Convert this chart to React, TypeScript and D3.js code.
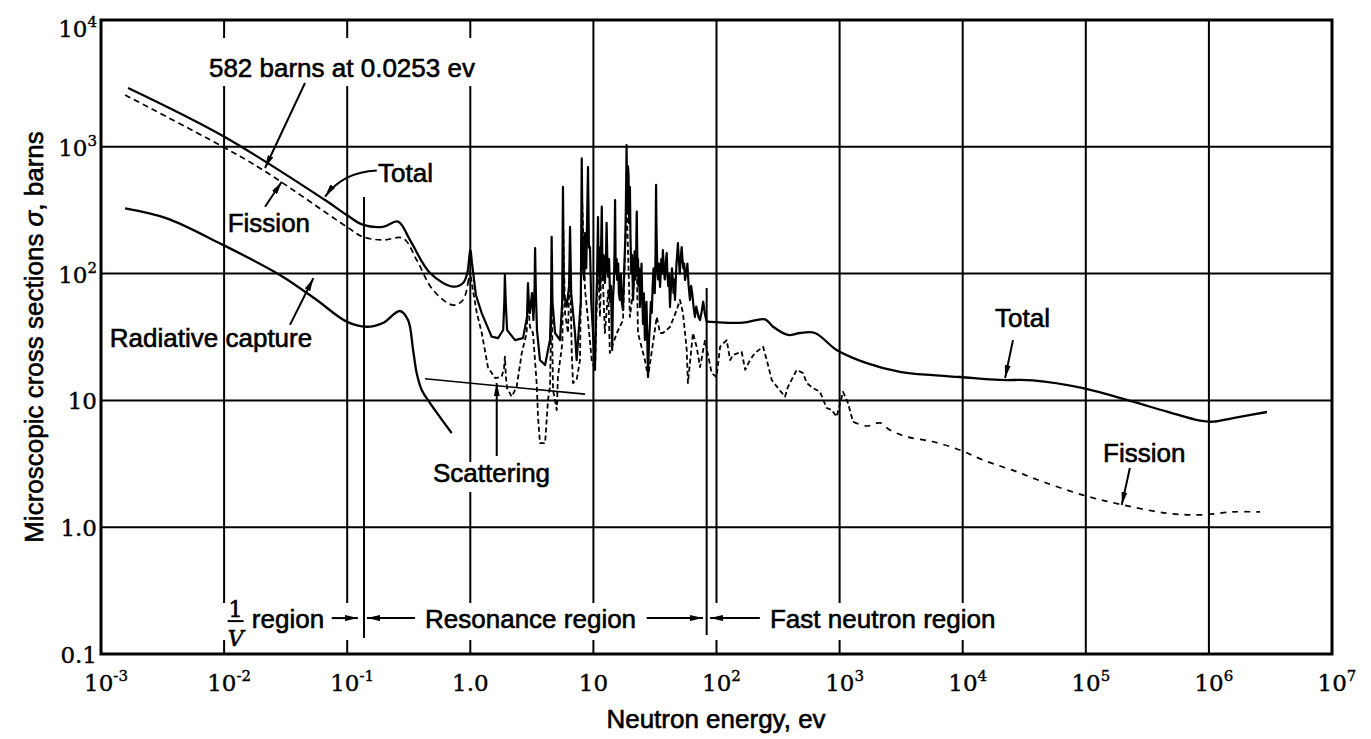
import React from 'react';
import * as d3 from 'd3';

// ---------- Data (energy in eV, cross section in barns) ----------
const totalThermal: [number, number][] = [
  [0.00166, 2910], [0.0098, 1216], [0.0661, 380], [0.0991, 290], [0.135, 242], [0.195, 234],
  [0.259, 257], [0.324, 184], [0.471, 101], [0.723, 78.9], [0.873, 84.3], [0.957, 107],
];

const totalResonance: [number, number][] = [
  [0.957, 107], [0.985, 140], [0.996, 153], [1.01, 150], [1.03, 123], [1.11, 67.8], [1.24, 48.6],
  [1.49, 31.8], [1.68, 31.0], [1.85, 35.9], [1.89, 60], [1.91, 97.5], [1.94, 60], [1.99, 35.9],
  [2.31, 29.9], [2.68, 31.0], [2.89, 45.5], [2.94, 84.3], [3.0, 55], [3.05, 48.9], [3.17, 70.3],
  [3.26, 43], [3.33, 80], [3.36, 159], [3.41, 70], [3.48, 35.9], [3.68, 20.8], [4.05, 19.0],
  [4.44, 29.9], [4.53, 60], [4.58, 195], [4.65, 60], [4.88, 34.0], [5.36, 29.9], [5.58, 60],
  [5.66, 484], [5.75, 70], [6.07, 54.8], [6.35, 80], [6.46, 234], [6.6, 70], [7.09, 34.0],
  [7.31, 20.8], [7.9, 60], [8.04, 811], [8.2, 120], [8.4, 90], [8.55, 209], [8.75, 110],
  [9.04, 693], [9.2, 160], [9.38, 162], [9.6, 60], [9.93, 34.0],
  [10.3, 17.4], [10.5, 50], [10.7, 90], [10.9, 279], [11.0, 120], [11.1, 100], [11.2, 160],
  [11.3, 74.2], [11.5, 130], [11.7, 337], [11.8, 150], [11.95, 90], [12.1, 140], [12.4, 84.3],
  [12.6, 110], [12.8, 251], [13.0, 120], [13.2, 94], [13.4, 130], [13.7, 60], [13.9, 80],
  [14.2, 25.0], [14.4, 60], [14.7, 90], [14.85, 150], [15.0, 380], [15.15, 120], [15.3, 100],
  [15.45, 130], [15.6, 89.1], [15.9, 120], [16.1, 70], [16.4, 61.9], [16.7, 100], [17.0, 60],
  [17.4, 51.6], [17.8, 110], [18.2, 200], [18.4, 400], [18.6, 1033], [18.75, 400], [18.9, 300],
  [19.1, 700], [19.3, 600], [19.5, 250], [19.8, 482], [20.0, 200], [20.3, 100], [20.6, 140],
  [21.0, 61.9], [21.3, 90], [21.6, 150], [21.9, 90], [22.2, 100], [22.35, 200], [22.5, 308],
  [22.7, 150], [22.9, 100], [23.05, 130], [23.2, 80], [23.5, 110], [23.9, 54.5], [24.2, 80],
  [24.6, 120], [24.9, 70], [25.3, 40], [25.7, 70], [26.2, 29.9], [26.6, 45], [27.0, 60],
  [27.4, 30], [27.8, 15.3], [28.3, 30], [28.8, 40], [29.3, 60], [29.8, 48.9], [30.3, 80],
  [30.8, 110], [31.1, 90], [31.5, 70], [31.8, 100], [32.0, 150], [32.15, 300], [32.3, 500],
  [32.5, 250], [32.8, 150], [33.1, 110], [33.5, 90], [34.1, 120], [34.8, 78.3], [35.2, 100],
  [35.6, 130], [36.1, 100], [36.7, 153], [37.3, 110], [38.0, 90], [38.7, 120], [39.4, 145],
  [39.9, 100], [40.5, 80], [41.2, 100], [41.9, 54.5], [42.7, 80], [43.5, 110], [44.1, 90],
  [44.8, 70], [45.4, 90], [46.0, 61.9], [46.7, 90], [47.3, 120], [47.9, 140], [48.6, 174],
  [49.4, 130], [50.3, 100], [51.2, 130], [52.1, 162], [52.9, 130], [53.8, 110], [54.6, 120],
  [55.5, 89.1], [56.7, 100], [58.0, 120], [59.4, 80], [60.9, 61.9], [62.2, 80], [63.5, 70],
  [65.1, 55], [66.8, 45.5], [68.4, 55], [70.0, 50], [71.7, 45], [73.5, 43.0], [75.7, 50],
  [78.0, 60], [80.5, 48], [83.2, 41.8],
];

const totalFast: [number, number][] = [
  [83.2, 41.8], [164, 41.0], [248, 43.6], [288, 38.1], [381, 32.8], [476, 34.0], [631, 34.0],
  [946, 25.0], [1660, 19.7], [3097, 16.8], [5741, 15.8], [9506, 15.3], [20100, 14.5],
  [37200, 14.4], [95000, 12.5], [242000, 9.77], [457000, 8.15], [847000, 6.92], [1080000, 6.79],
  [1570000, 7.26], [2960000, 8.10],
];

const fissionThermal: [number, number][] = [
  [0.00157, 2563], [0.00975, 1002], [0.0207, 656], [0.0991, 234], [0.134, 195], [0.195, 184],
  [0.284, 190], [0.367, 128], [0.498, 74.2], [0.723, 56.5], [0.873, 61.9], [0.957, 84.3],
];

const fissionResonance: [number, number][] = [
  [0.957, 84.3], [0.996, 103], [1.05, 74.2], [1.13, 48.9], [1.24, 34.0], [1.39, 18.3], [1.59, 15.0],
  [1.80, 15.4], [1.88, 18], [1.91, 22.1], [1.95, 15], [1.99, 12.5], [2.17, 10.7], [2.38, 12.8],
  [2.62, 23.7], [2.87, 34.0], [2.94, 61.9], [3.05, 38.1], [3.23, 34.0], [3.46, 13.7], [3.55, 7.43],
  [3.68, 4.61], [4.05, 4.61], [4.28, 10.1], [4.44, 12.8], [4.58, 61.9], [4.70, 12.1], [5.04, 8.40],
  [5.15, 15.4], [5.6, 28.4], [5.7, 221], [5.88, 48.9], [6.22, 34.0], [6.46, 128], [6.67, 23.7],
  [6.83, 13.7], [7.31, 14.5], [7.78, 20.8], [8.1, 380], [8.55, 74.2], [8.83, 54.8], [9.69, 20.8],
  [10.3, 17.4], [10.9, 128], [11.3, 45.5], [11.7, 150], [12.4, 34.0], [13.2, 74.2], [13.6, 23.7],
  [15.5, 34.0], [17.4, 43.0], [18.6, 380], [19.8, 45.5], [22.5, 128], [23.0, 34.0], [26.2, 20.8],
  [27.8, 15.3], [32.7, 45.5], [34.8, 34.0], [36.7, 34.0], [41.9, 37.9], [47.5, 51.6], [50.5, 61.9],
  [53.4, 48.9], [57.3, 25.0], [58.6, 13.7], [64.4, 34.0], [69.0, 26.4], [73.5, 18.3], [80.7, 29.9],
  [91.4, 16.4], [100, 15.3], [107, 26.5], [121, 29.9], [129, 20.8], [136, 22.8], [160, 24.2],
  [171, 17.4], [187, 20.8], [206, 23.7], [239, 26.5], [256, 20.8], [281, 14.5], [316, 12.5],
  [360, 10.7], [381, 12.8], [448, 17.4], [505, 16.4], [541, 13.7], [608, 12.5], [693, 11.7],
  [785, 8.71], [863, 8.40], [946, 7.43], [1067, 11.7], [1170, 9.53], [1285, 6.79],
];

const fissionTail: [number, number][] = [
  [1285, 6.79], [1660, 6.28], [2128, 6.64], [2566, 5.84], [3508, 5.17], [5741, 4.72], [9506, 4.06],
  [14600, 3.39], [27500, 2.74], [37200, 2.44], [95000, 1.79], [200000, 1.50], [457000, 1.29],
  [847000, 1.25], [1570000, 1.32], [2600000, 1.32],
];

const radiativeCapture: [number, number][] = [
  [0.00157, 327], [0.00342, 273], [0.00927, 173], [0.0284, 97.5], [0.0565, 61.9], [0.0991, 41.8],
  [0.144, 38.1], [0.195, 40.8], [0.268, 50.7], [0.312, 43.0], [0.343, 25.0], [0.367, 16.4],
  [0.403, 12.1], [0.471, 9.53], [0.706, 5.53],
];

const scattering: [number, number][] = [[0.429, 14.8], [8.55, 11.2]];

// Region boundaries (eV)
const regionBounds = [0.137, 83.2];

// Axis ticks
const xTicks = [1e-3, 1e-2, 1e-1, 1, 10, 100, 1e3, 1e4, 1e5, 1e6, 1e7];
const xTickLabels = ['10^-3', '10^-2', '10^-1', '1.0', '10', '10^2', '10^3', '10^4', '10^5', '10^6', '10^7'];
const yTicks = [0.1, 1, 10, 100, 1000, 10000];
const yTickLabels = ['0.1', '1.0', '10', '10^2', '10^3', '10^4'];

const SANS = "'Liberation Sans', Arial, sans-serif";
const SERIF = "'DejaVu Serif', serif";

export default function App() {
  const x = d3.scaleLog().domain([1e-3, 1e7]).range([101, 1332]);
  const y = d3.scaleLog().domain([0.1, 1e4]).range([654, 20]);
  const mk = (curve: any) =>
    d3.line<[number, number]>().x((d) => x(d[0])).y((d) => y(d[1])).curve(curve);
  const smooth = mk(d3.curveCatmullRom.alpha(0.5));
  const sharp = mk(d3.curveLinear);

  const [x0, x1] = x.range();
  const [yb, yt] = y.range();

  const tickLabel = (label: string) => {
    const [base, exp] = label.split('^');
    return (
      <>
        {base}
        {exp && (
          <tspan dy={-10} fontSize={15}>
            {exp}
          </tspan>
        )}
      </>
    );
  };

  const annoStyle = { fontFamily: SANS, fontSize: 26, fill: '#000', stroke: '#000', strokeWidth: 0.6 };
  const tickStyle = { fontFamily: SERIF, fontSize: 23, fill: '#000', stroke: '#000', strokeWidth: 0.4 };

  const arrows: { from: [number, number]; to: [number, number] }[] = [
    { from: [0.0454, 3184], to: [0.0215, 681] },
    { from: [0.0215, 337], to: [0.0294, 530] },
    { from: [0.0343, 39.4], to: [0.0531, 91.9] },
    { from: [1.64, 3.64], to: [1.64, 13.7] },
    { from: [25600, 29.9], to: [22100, 15.0] },
    { from: [228000, 2.93], to: [196000, 1.5] },
  ];

  const labels: { text: string; at: [number, number] }[] = [
    { text: '582 barns at 0.0253 ev', at: [0.00753, 3553] },
    { text: 'Total', at: [0.178, 527] },
    { text: 'Fission', at: [0.0107, 213] },
    { text: 'Radiative capture', at: [0.00118, 26.4] },
    { text: 'Scattering', at: [0.498, 2.28] },
    { text: 'Total', at: [18300, 37.9] },
    { text: 'Fission', at: [138000, 3.27] },
  ];

  const rowY = y(0.16);
  const arrowY = y(0.192);

  return (
    <svg
      width={1371}
      height={739}
      style={{ position: 'absolute', left: 0, top: 0, background: '#fff' }}
      xmlns="http://www.w3.org/2000/svg"
    >
      <defs>
        <marker id="ah" viewBox="0 0 13 6" refX="13" refY="3" markerWidth="13" markerHeight="6"
          markerUnits="userSpaceOnUse" orient="auto">
          <path d="M0,0 L13,3 L0,6 z" fill="#000" />
        </marker>
      </defs>
      <rect x={0} y={0} width={1371} height={739} fill="#fff" />

      {/* grid */}
      {xTicks.slice(1, -1).map((t) => (
        <line key={'gx' + t} x1={x(t)} x2={x(t)} y1={yt} y2={yb} stroke="#000" strokeWidth={2} />
      ))}
      {yTicks.slice(1, -1).map((t) => (
        <line key={'gy' + t} x1={x0} x2={x1} y1={y(t)} y2={y(t)} stroke="#000" strokeWidth={2} />
      ))}

      {/* gaps in grid behind text */}
      <rect x={200} y={38} width={287} height={48} fill="#fff" />
      <rect x={212} y={603} width={793} height={37} fill="#fff" />
      <rect x={430} y={462} width={128} height={30} fill="#fff" />

      {/* region separators */}
      <line x1={x(regionBounds[0])} x2={x(regionBounds[0])} y1={y(402)} y2={y(0.134)} stroke="#000" strokeWidth={2} />
      <line x1={x(regionBounds[1])} x2={x(regionBounds[1])} y1={y(76.9)} y2={y(0.141)} stroke="#000" strokeWidth={2} />

      {/* curves */}
      <g fill="none" stroke="#000" strokeLinejoin="round">
        <path d={smooth(totalThermal)!} strokeWidth={2.3} />
        <path d={sharp(totalResonance)!} strokeWidth={2.2} />
        <path d={smooth(totalFast)!} strokeWidth={2.3} />
        <path d={smooth(radiativeCapture)!} strokeWidth={2.3} />
        <path d={sharp(scattering)!} strokeWidth={1.6} />
        <path d={smooth(fissionThermal)!} strokeWidth={1.7} strokeDasharray="6,4" />
        <path d={sharp(fissionResonance)!} strokeWidth={1.8} strokeDasharray="5,3" />
        <path d={smooth(fissionTail)!} strokeWidth={1.7} strokeDasharray="6,6" />
      </g>

      {/* frame */}
      <rect x={x0} y={yt} width={x1 - x0} height={yb - yt} fill="none" stroke="#000" strokeWidth={3} />

      {/* annotations */}
      {labels.map((l, i) => (
        <text key={'l' + i} x={x(l.at[0])} y={y(l.at[1])} {...annoStyle}>
          {l.text}
        </text>
      ))}
      {arrows.map((a, i) => (
        <line key={'a' + i} x1={x(a.from[0])} y1={y(a.from[1])} x2={x(a.to[0])} y2={y(a.to[1])}
          stroke="#000" strokeWidth={2} markerEnd="url(#ah)" />
      ))}
      <path
        d={`M${x(0.174)},${y(649)} Q${x(0.0925)},${y(632)} ${x(0.0661)},${y(404)}`}
        fill="none" stroke="#000" strokeWidth={2} markerEnd="url(#ah)"
      />

      {/* region row */}
      <g {...annoStyle}>
        <text x={x(0.0124)} y={rowY - 11} textAnchor="middle" fontFamily={SERIF} fontSize={22}>1</text>
        <line x1={x(0.0124) - 8} x2={x(0.0124) + 8} y1={rowY - 7} y2={rowY - 7} strokeWidth={2} />
        <text x={x(0.0124)} y={rowY + 18} textAnchor="middle" fontFamily={SERIF} fontStyle="italic" fontSize={22}>V</text>
        <text x={x(0.0168)} y={rowY}>region</text>
        <text x={x(0.429)} y={rowY}>Resonance region</text>
        <text x={x(272)} y={rowY}>Fast neutron region</text>
      </g>
      <g stroke="#000" strokeWidth={2}>
        <line x1={x(0.0748)} x2={x(0.122)} y1={arrowY} y2={arrowY} markerEnd="url(#ah)" />
        <line x1={x(0.356)} x2={x(0.145)} y1={arrowY} y2={arrowY} markerEnd="url(#ah)" />
        <line x1={x(27.1)} x2={x(77.6)} y1={arrowY} y2={arrowY} markerEnd="url(#ah)" />
        <line x1={x(225)} x2={x(88.5)} y1={arrowY} y2={arrowY} markerEnd="url(#ah)" />
      </g>

      {/* axis tick labels */}
      {xTicks.map((t, i) => (
        <text key={'xt' + t} x={x(t) + (xTickLabels[i].includes('^') ? 5 : 0)} y={691}
          textAnchor="middle" {...tickStyle}>
          {tickLabel(xTickLabels[i])}
        </text>
      ))}
      {yTicks.map((t, i) => (
        <text key={'yt' + t} x={97} y={y(t) + (t === 1e4 ? 17 : 9)} textAnchor="end" {...tickStyle}>
          {tickLabel(yTickLabels[i])}
        </text>
      ))}

      {/* axis titles */}
      <text x={716} y={728} textAnchor="middle" {...annoStyle}>Neutron energy, ev</text>
      <text transform={`translate(43,${(yt + yb) / 2}) rotate(-90)`} textAnchor="middle" {...annoStyle}>
        Microscopic cross sections <tspan fontStyle="italic">σ</tspan>, barns
      </text>
    </svg>
  );
}
